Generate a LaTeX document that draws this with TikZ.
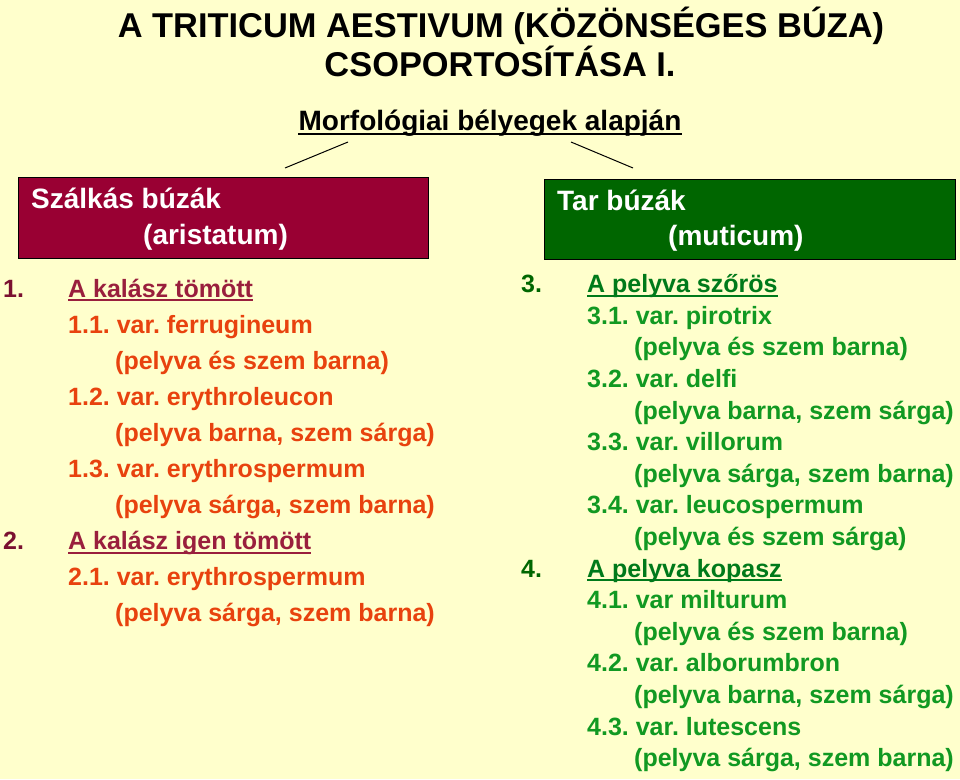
\documentclass[tikz,border=0pt]{standalone}
\usepackage{fontspec}
\setmainfont{Liberation Sans}
\usetikzlibrary{positioning}
\frenchspacing

\definecolor{paper}{HTML}{FFFFCC}
\definecolor{szalkas}{HTML}{990033}
\definecolor{tar}{HTML}{006600}
\definecolor{rednum}{HTML}{7A1030}
\definecolor{redhead}{HTML}{991F3D}
\definecolor{redvar}{HTML}{E8420E}
\definecolor{greennum}{HTML}{006600}
\definecolor{greenhead}{HTML}{007A1A}
\definecolor{greenvar}{HTML}{119922}

\newcommand\titlefnt{\fontsize{34.4}{40}\selectfont\bfseries}
\newcommand\boxfnt{\fontsize{28}{34}\selectfont\bfseries}
\newcommand\varfnt{\fontsize{25}{30}\selectfont\bfseries}

\tikzset{
  txt/.style={anchor=base west,inner sep=0pt},
  ul/.style={line width=2.2pt},
  groupbox/.style={draw=black,line width=0.8pt,anchor=north west,inner sep=0pt},
}

\begin{document}
\begin{tikzpicture}[x=1pt,y=-1pt]

        \fill[paper] (0,0) rectangle (960,779);
        \useasboundingbox (0,0) rectangle (960,779);

        % title
        \begin{scope}[every node/.style={anchor=base,inner sep=0pt,font=\titlefnt}]
          \node (t1) at (501,37) {A TRITICUM AESTIVUM (KÖZÖNSÉGES BÚZA)};
          \node (t2) at (500,76) {CSOPORTOSÍTÁSA I.};
        \end{scope}

        \node[anchor=base,inner sep=0pt,font=\boxfnt] (morf) at (490,130) {Morfológiai bélyegek alapján};
        \draw[line width=2pt] ([yshift=-3.5pt]morf.base west) -- ([yshift=-3.5pt]morf.base east);

        \coordinate (l1) at (348,142);
        \coordinate (l2) at (285,168);
        \coordinate (r1) at (571,142);
        \coordinate (r2) at (633,168);
        \draw[line width=1pt] (l1) -- (l2);
        \draw[line width=1pt] (r1) -- (r2);

        % the two boxes
        \node[groupbox,fill=szalkas,minimum width=410pt,minimum height=81pt] (sz) at (18,177) {};
        \node[groupbox,fill=tar,minimum width=411pt,minimum height=80pt] (ta) at (544,179) {};

        \begin{scope}[every node/.style={txt,font=\boxfnt,text=white}]
          \node (sz1) at (31,208) {Szálkás búzák};
          \node (sz2) at (143,244) {(aristatum)};
          \node (ta1) at (557,210) {Tar búzák};
          \node (ta2) at (668,245) {(muticum)};
        \end{scope}

        % left list
        \begin{scope}[every node/.style={txt,font=\varfnt,text=redvar}]
          \node[text=rednum]  (a1)  at (3,297)    {1.};
          \node[text=redhead] (a1h) at (68,297)   {A kalász tömött};
          \node (a11)  at (68,333.1)  {1.1. var. ferrugineum};
          \node (a11d) at (115,369.2) {(pelyva és szem barna)};
          \node (a12)  at (68,405.3)  {1.2. var. erythroleucon};
          \node (a12d) at (115,441.4) {(pelyva barna, szem sárga)};
          \node (a13)  at (68,477.5)  {1.3. var. erythrospermum};
          \node (a13d) at (115,513.6) {(pelyva sárga, szem barna)};
          \node[text=rednum]  (a2)  at (3,549.7)  {2.};
          \node[text=redhead] (a2h) at (68,549.7) {A kalász igen tömött};
          \node (a21)  at (68,585.8)  {2.1. var. erythrospermum};
          \node (a21d) at (115,621.9) {(pelyva sárga, szem barna)};
        \end{scope}

        % right list
        \begin{scope}[every node/.style={txt,font=\varfnt,text=greenvar}]
          \node[text=greennum]  (b3)  at (521,292.7) {3.};
          \node[text=greenhead] (b3h) at (587,292.7) {A pelyva szőrös};
          \node (b31)  at (587,324.3) {3.1. var. pirotrix};
          \node (b31d) at (634,355.9) {(pelyva és szem barna)};
          \node (b32)  at (587,387.5) {3.2. var. delfi};
          \node (b32d) at (634,419.1) {(pelyva barna, szem sárga)};
          \node (b33)  at (587,450.7) {3.3. var. villorum};
          \node (b33d) at (634,482.3) {(pelyva sárga, szem barna)};
          \node (b34)  at (587,513.9) {3.4. var. leucospermum};
          \node (b34d) at (634,545.5) {(pelyva és szem sárga)};
          \node[text=greennum]  (b4)  at (521,577.1) {4.};
          \node[text=greenhead] (b4h) at (587,577.1) {A pelyva kopasz};
          \node (b41)  at (587,608.7) {4.1. var milturum};
          \node (b41d) at (634,640.3) {(pelyva és szem barna)};
          \node (b42)  at (587,671.9) {4.2. var. alborumbron};
          \node (b42d) at (634,703.5) {(pelyva barna, szem sárga)};
          \node (b43)  at (587,735.1) {4.3. var. lutescens};
          \node (b43d) at (634,766.7) {(pelyva sárga, szem barna)};
        \end{scope}

        % underlined headings
        \draw[ul,redhead] ([yshift=-3pt]a1h.base west) -- ([yshift=-3pt]a1h.base east);
        \draw[ul,redhead] ([yshift=-3pt]a2h.base west) -- ([yshift=-3pt]a2h.base east);
        \draw[ul,greenhead] ([yshift=-3pt]b3h.base west) -- ([yshift=-3pt]b3h.base east);
        \draw[ul,greenhead] ([yshift=-3pt]b4h.base west) -- ([yshift=-3pt]b4h.base east);

      \end{tikzpicture}
\end{document}
